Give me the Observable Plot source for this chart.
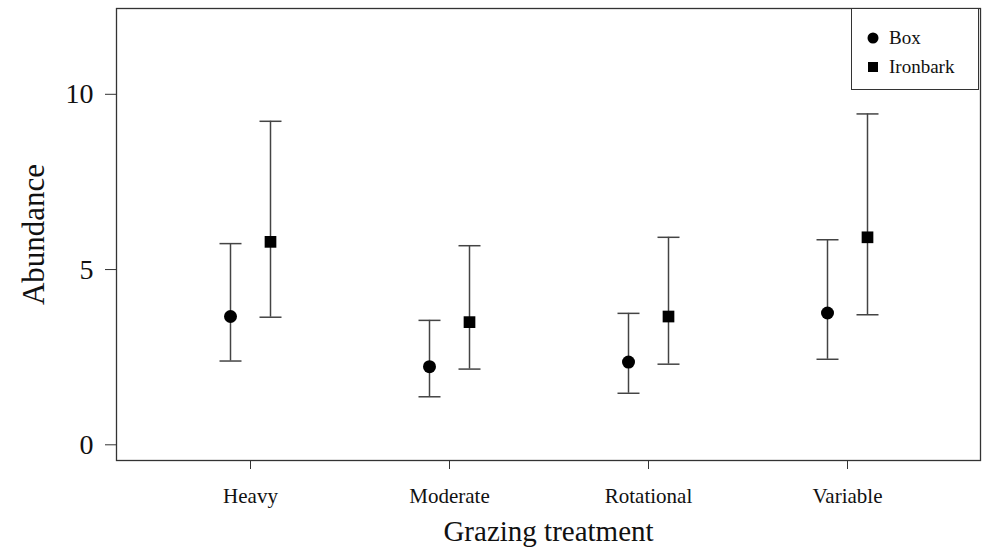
<!DOCTYPE html>
<html>
<head>
<meta charset="utf-8">
<script src="https://cdn.jsdelivr.net/npm/d3@7"></script>
<script src="https://cdn.jsdelivr.net/npm/@observablehq/plot@0.6"></script>
<style>
  html, body { margin: 0; padding: 0; background: #fff; }
  #wrap { position: relative; width: 983px; height: 559px; }
  #legend {
    position: absolute; left: 851px; top: 8px; width: 128px; height: 82px;
    border: 1.3px solid #333; background: #fff; box-sizing: border-box;
    font-family: "Liberation Serif", "Times New Roman", serif; font-size: 19px; color: #111;
  }
  #legend .row { position: absolute; left: 0; display: flex; align-items: center; }
  #legend svg { margin-left: 15px; margin-right: 10px; }
</style>
</head>
<body>
<div id="wrap"></div>
<script>
const treatments = ["Heavy", "Moderate", "Rotational", "Variable"];
const seriesNames = ["Box", "Ironbark"];
const boxMean  = [3.66, 2.23, 2.36, 3.76];
const boxLower = [2.39, 1.37, 1.47, 2.44];
const boxUpper = [5.74, 3.55, 3.75, 5.85];
const ironMean  = [5.79, 3.50, 3.66, 5.92];
const ironLower = [3.64, 2.16, 2.30, 3.71];
const ironUpper = [9.23, 5.68, 5.92, 9.44];
const yTicks = [0, 5, 10];

const rows = (mean, lo, hi) => treatments.map((t, i) => ({t, mean: mean[i], lo: lo[i], hi: hi[i]}));
const boxData = rows(boxMean, boxLower, boxUpper);
const ironData = rows(ironMean, ironLower, ironUpper);

const cap = { draw(ctx, size) { const r = Math.sqrt(size / Math.PI); ctx.moveTo(-r, 0); ctx.lineTo(r, 0); } };
const ink = "#444";

function seriesMarks(data, dx, symbol, r) {
  return [
    Plot.ruleX(data, {x: "t", y1: "lo", y2: "hi", dx, stroke: ink, strokeWidth: 1.5}),
    Plot.dot(data, {x: "t", y: "hi", dx, symbol: cap, r: 11, stroke: ink, strokeWidth: 1.5}),
    Plot.dot(data, {x: "t", y: "lo", dx, symbol: cap, r: 11, stroke: ink, strokeWidth: 1.5}),
    Plot.dot(data, {x: "t", y: "mean", dx, symbol, r, fill: "#000", stroke: null})
  ];
}

const chart = Plot.plot({
  width: 983,
  height: 559,
  marginLeft: 116,
  marginRight: 3,
  marginTop: 8,
  marginBottom: 99,
  style: {fontFamily: "'Liberation Serif', 'Times New Roman', serif", color: "#111", background: "#fff"},
  x: {type: "point", domain: treatments, padding: 0.665},
  y: {domain: [-0.448, 12.448]},
  marks: [
    Plot.frame({stroke: "#333", strokeWidth: 1.3}),
    Plot.axisY({ticks: yTicks, tickSize: 11, tickPadding: 12, fontSize: 28, label: null, stroke: "#333"}),
    Plot.axisX({tickSize: 9, tickPadding: 19, fontSize: 21, label: null, stroke: "#333"}),
    Plot.text(["Abundance"], {frameAnchor: "left", textAnchor: "middle", dx: -82, rotate: -90, fontSize: 31, fill: "#111"}),
    Plot.text(["Grazing treatment"], {frameAnchor: "bottom", textAnchor: "middle", dy: 80, fontSize: 29, fill: "#111"}),
    ...seriesMarks(boxData, -20, "circle", 6.5),
    ...seriesMarks(ironData, 20, "square", 6.6)
  ]
});

const wrap = document.getElementById("wrap");
wrap.appendChild(chart);

const legend = document.createElement("div");
legend.id = "legend";
const legendSymbols = {Box: '<circle cx="6" cy="6" r="5.5" fill="#000"/>', Ironbark: '<rect x="1" y="1" width="10" height="10" fill="#000"/>'};
seriesNames.forEach((name, i) => {
  const row = document.createElement("div");
  row.className = "row";
  row.style.top = (18 + i * 29) + "px";
  row.innerHTML = `<svg width="12" height="12">${legendSymbols[name]}</svg><span>${name}</span>`;
  legend.appendChild(row);
});
wrap.appendChild(legend);
</script>
</body>
</html>
